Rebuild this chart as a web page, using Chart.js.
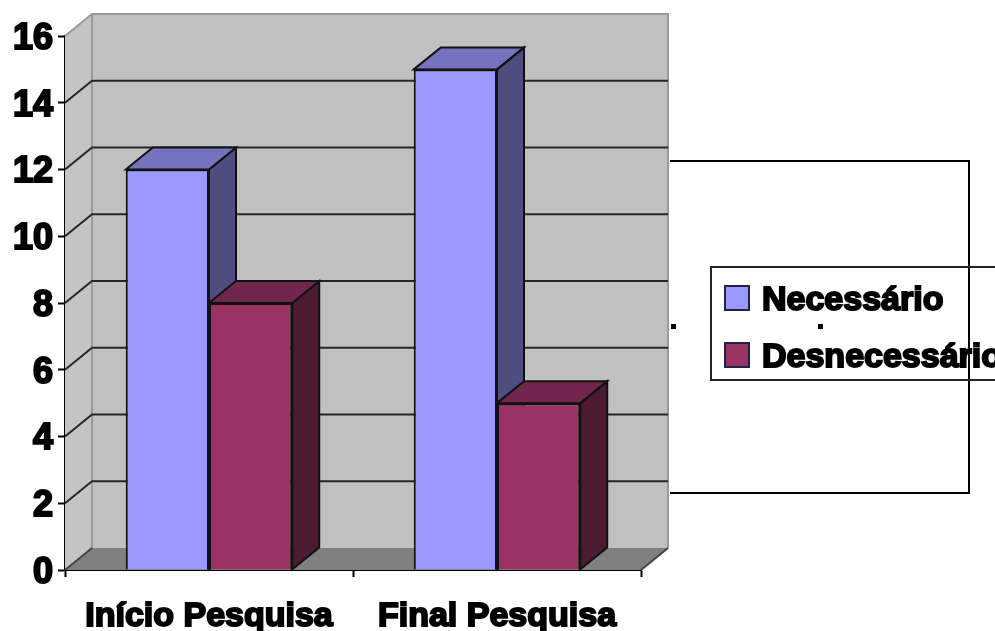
<!DOCTYPE html>
<html lang="pt">
<head>
<meta charset="utf-8">
<title>Necessário e Desnecessário</title>
<style>
  html, body { margin: 0; padding: 0; background: #fff; overflow: hidden; }
  canvas { display: block; }
</style>
<script src="https://cdn.jsdelivr.net/npm/chart.js@4/dist/chart.umd.min.js"></script>
</head>
<body>
<canvas id="chart" width="995" height="631"></canvas>
<script>
const categories = ['Início Pesquisa', 'Final Pesquisa'];
const necessario = [12, 15];
const desnecessario = [8, 5];
const yTicks = [0, 2, 4, 6, 8, 10, 12, 14, 16];

// Shift of the back wall relative to the front plane of the pseudo-3D box
const DEPTH_X = 27;
const DEPTH_Y = -22;
const INK = '#111111';

function poly(ctx, pts, fill, stroke, lw) {
  ctx.beginPath();
  pts.forEach((p, i) => i ? ctx.lineTo(p[0], p[1]) : ctx.moveTo(p[0], p[1]));
  ctx.closePath();
  if (fill) { ctx.fillStyle = fill; ctx.fill(); }
  if (stroke) { ctx.strokeStyle = stroke; ctx.lineWidth = lw; ctx.stroke(); }
}

// Walls, floor, grid lines and the extruded faces of the columns
const box3d = {
  id: 'box3d',
  beforeDatasetsDraw(chart) {
    const { ctx, chartArea: a, scales: { y } } = chart;
    const dx = DEPTH_X, dy = DEPTH_Y;
    ctx.save();
    poly(ctx, [[a.left + dx, a.top + dy], [a.right + dx, a.top + dy], [a.right + dx, a.bottom + dy], [a.left + dx, a.bottom + dy]], '#c0c0c0');
    poly(ctx, [[a.left, a.top], [a.left + dx, a.top + dy], [a.left + dx, a.bottom + dy], [a.left, a.bottom]], '#c4c4c4');
    poly(ctx, [[a.left, a.bottom], [a.left + dx, a.bottom + dy], [a.right + dx, a.bottom + dy], [a.right, a.bottom]], '#808080');

    ctx.strokeStyle = '#9a9a9a';
    ctx.lineWidth = 2;
    ctx.beginPath();
    ctx.moveTo(a.left, a.top);
    ctx.lineTo(a.left + dx, a.top + dy);
    ctx.lineTo(a.right + dx, a.top + dy);
    ctx.lineTo(a.right + dx, a.bottom + dy);
    ctx.moveTo(a.left + dx, a.top + dy);
    ctx.lineTo(a.left + dx, a.bottom + dy);
    ctx.stroke();

    // Grid lines run along the side wall and then across the back wall
    ctx.strokeStyle = '#262626';
    ctx.lineWidth = 2;
    yTicks.filter(t => t > 0 && t < 16).forEach(t => {
      const py = y.getPixelForValue(t);
      ctx.beginPath();
      ctx.moveTo(a.left, py);
      ctx.lineTo(a.left + dx, py + dy);
      ctx.lineTo(a.right + dx, py + dy);
      ctx.stroke();
    });
    ctx.strokeStyle = '#444444';
    ctx.beginPath();
    ctx.moveTo(a.left, a.bottom);
    ctx.lineTo(a.left + dx, a.bottom + dy);
    ctx.moveTo(a.right, a.bottom);
    ctx.lineTo(a.right + dx, a.bottom + dy);
    ctx.stroke();

    chart.data.datasets.forEach((ds, i) => {
      chart.getDatasetMeta(i).data.forEach(bar => {
        const { x, y: top, base, width } = bar.getProps(['x', 'y', 'base', 'width'], true);
        const l = x - width / 2, r = x + width / 2;
        poly(ctx, [[r, top], [r + dx, top + dy], [r + dx, base + dy], [r, base]], ds.sideColor, INK, 2);
        poly(ctx, [[l, top], [l + dx, top + dy], [r + dx, top + dy], [r, top]], ds.topColor, INK, 2);
      });
    });
    ctx.restore();
  }
};

// Outer frame, stray marks and the legend placed to the right of the plot
const legendBox = {
  id: 'legendBox',
  afterDraw(chart) {
    const { ctx } = chart;
    ctx.save();
    ctx.strokeStyle = '#000';
    ctx.lineWidth = 2;
    ctx.beginPath();
    ctx.moveTo(670, 161);
    ctx.lineTo(969, 161);
    ctx.lineTo(969, 493);
    ctx.lineTo(670, 493);
    ctx.stroke();

    ctx.fillStyle = '#000';
    ctx.fillRect(671, 324, 5, 5);
    ctx.fillRect(818, 324, 5, 5);

    ctx.strokeStyle = '#222';
    ctx.beginPath();
    ctx.moveTo(1000, 267);
    ctx.lineTo(711, 267);
    ctx.lineTo(711, 380);
    ctx.lineTo(1000, 380);
    ctx.stroke();

    const rows = [298, 355];
    chart.data.datasets.forEach((ds, i) => {
      const cy = rows[i];
      ctx.fillStyle = ds.backgroundColor;
      ctx.strokeStyle = '#222244';
      ctx.lineWidth = 2;
      ctx.fillRect(725, cy - 12, 24, 24);
      ctx.strokeRect(725, cy - 12, 24, 24);
      ctx.font = 'bold 34px "Liberation Sans"';
      ctx.textBaseline = 'middle';
      ctx.textAlign = 'left';
      ctx.fillStyle = '#000';
      ctx.strokeStyle = '#000';
      ctx.lineWidth = 2;
      ctx.fillText(ds.label, 762, cy + 3);
      ctx.strokeText(ds.label, 762, cy + 3);
    });
    ctx.restore();
  }
};

new Chart(document.getElementById('chart'), {
  type: 'bar',
  data: {
    labels: categories,
    datasets: [
      { label: 'Necessário', data: necessario, backgroundColor: '#9999ff', topColor: '#7373bf', sideColor: '#4d4d80', borderColor: INK, borderWidth: 2 },
      { label: 'Desnecessário', data: desnecessario, backgroundColor: '#993366', topColor: '#73264d', sideColor: '#4d1a33', borderColor: INK, borderWidth: 2 }
    ]
  },
  options: {
    responsive: false,
    animation: false,
    layout: { padding: { top: 36, right: 354, left: 0, bottom: 0 } },
    plugins: { legend: { display: false }, tooltip: { enabled: false } },
    datasets: { bar: { barPercentage: 1, categoryPercentage: 0.578 } },
    scales: {
      x: {
        afterFit(s) { s.height = 61; },
        grid: { drawOnChartArea: false, tickLength: 7, tickColor: '#000', tickWidth: 2 },
        border: { color: '#000', width: 2 },
        ticks: {
          autoSkip: false, maxRotation: 0, padding: 19, color: '#000',
          font: { family: '"Liberation Sans"', size: 34, weight: 'bold' },
          textStrokeColor: '#000', textStrokeWidth: 2
        }
      },
      y: {
        min: 0,
        max: 16,
        afterFit(s) { s.width = 65; },
        afterBuildTicks(s) { s.ticks = yTicks.map(value => ({ value })); },
        grid: { drawOnChartArea: false, tickLength: 7, tickColor: '#000', tickWidth: 2 },
        border: { color: '#000', width: 2 },
        ticks: {
          padding: 5, labelOffset: 3, color: '#000',
          font: { family: '"Liberation Sans"', size: 36, weight: 'bold' },
          textStrokeColor: '#000', textStrokeWidth: 2
        }
      }
    }
  },
  plugins: [box3d, legendBox]
});
</script>
</body>
</html>
